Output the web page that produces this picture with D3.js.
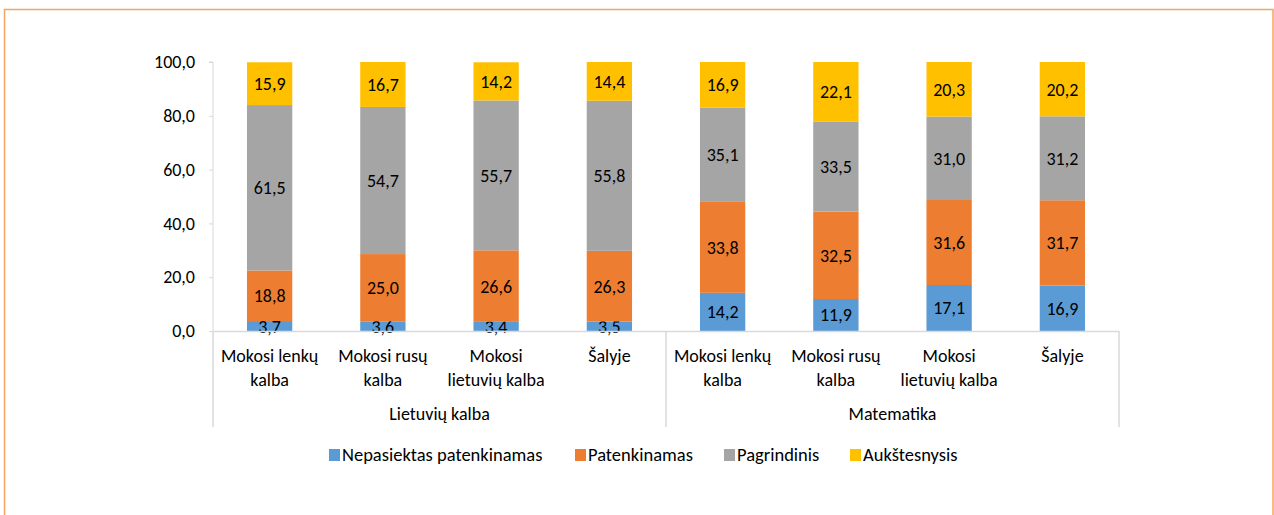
<!DOCTYPE html>
<html>
<head>
<meta charset="utf-8">
<script src="https://cdn.jsdelivr.net/npm/d3@7"></script>
<style>
  body { margin: 0; background: #fff; }
  svg text { font-family: Calibri, Carlito, "Open Sans", sans-serif; fill: #000; }
</style>
</head>
<body>
<svg id="chart" width="1274" height="515"></svg>
<script>
// Achievement levels by language of instruction, in percent
const groups = ["Lietuvių kalba", "Matematika"];
const categories = ["Mokosi lenkų kalba", "Mokosi rusų kalba", "Mokosi lietuvių kalba", "Šalyje"];
const categoryLines = [["Mokosi lenkų", "kalba"], ["Mokosi rusų", "kalba"], ["Mokosi", "lietuvių kalba"], ["Šalyje"]];
const seriesNames = ["Nepasiektas patenkinamas", "Patenkinamas", "Pagrindinis", "Aukštesnysis"];
const nepasiektas = [3.7, 3.6, 3.4, 3.5, 14.2, 11.9, 17.1, 16.9];
const patenkinamas = [18.8, 25.0, 26.6, 26.3, 33.8, 32.5, 31.6, 31.7];
const pagrindinis = [61.5, 54.7, 55.7, 55.8, 35.1, 33.5, 31.0, 31.2];
const aukstesnysis = [15.9, 16.7, 14.2, 14.4, 16.9, 22.1, 20.3, 20.2];
const yTicks = [0, 20, 40, 60, 80, 100];
const colors = ["#5b9bd5", "#ed7d31", "#a5a5a5", "#ffc000"];

const seriesValues = [nepasiektas, patenkinamas, pagrindinis, aukstesnysis];
const rows = [];
groups.forEach((g, gi) => categories.forEach((c, ci) => {
  const i = gi * categories.length + ci;
  const row = { key: g + "|" + c, idx: i };
  seriesNames.forEach((s, si) => row[s] = seriesValues[si][i]);
  rows.push(row);
}));

const svg = d3.select("#chart");
const fmt = v => d3.format(".1f")(v).replace(".", ",");

// outer frame
svg.append("rect").attr("x", 4.5).attr("y", 9.5).attr("width", 1268.5).attr("height", 520)
  .attr("fill", "none").attr("stroke", "#f4a460").attr("stroke-width", 1.5);

const plotLeft = 213, plotRight = 1119, plotTop = 62, plotBottom = 331;
const x = d3.scaleBand().domain(rows.map(r => r.key)).range([plotLeft, plotRight]).paddingInner(0.6).paddingOuter(0.3);
const y = d3.scaleLinear().domain([0, 100]).range([plotBottom, plotTop]);

// y axis
const yAxis = svg.append("g").attr("transform", `translate(${plotLeft},0)`)
  .call(d3.axisLeft(y).tickValues(yTicks).tickSize(4).tickPadding(14).tickFormat(fmt));
yAxis.select(".domain").attr("stroke", "#d9d9d9").attr("d", `M-4,${plotTop}H0V${plotBottom}`);
yAxis.selectAll(".tick line").attr("stroke", "#d9d9d9");
yAxis.selectAll(".tick text").style("font-size", "18px").style("font-family", null);

// stacked bars
const stack = d3.stack().keys(seriesNames)(rows);
const layers = svg.append("g").selectAll("g").data(stack).join("g")
  .attr("fill", (d, i) => colors[i]);
layers.selectAll("rect").data(d => d).join("rect")
  .attr("x", d => x(d.data.key))
  .attr("width", x.bandwidth())
  .attr("y", d => y(d[1]))
  .attr("height", d => y(d[0]) - y(d[1]));

// value labels
layers.selectAll("text").data(d => d.map(v => ({ v, val: v[1] - v[0] }))).join("text")
  .attr("x", d => x(d.v.data.key) + x.bandwidth() / 2)
  .attr("y", d => (y(d.v[0]) + y(d.v[1])) / 2)
  .attr("dy", "0.36em")
  .attr("text-anchor", "middle")
  .style("font-size", "18px")
  .text(d => fmt(d.val));

// category axis with group divisions
const axisColor = "#d9d9d9";
const groupBottom = 427;
svg.append("line").attr("x1", plotLeft).attr("x2", plotRight).attr("y1", plotBottom + 0.5).attr("y2", plotBottom + 0.5)
  .attr("stroke", axisColor).attr("stroke-width", 1.5);
const step = x.step();
const groupEdges = d3.range(groups.length + 1).map(g => plotLeft + g * categories.length * step);
groupEdges.forEach(gx => {
  svg.append("line").attr("x1", gx).attr("x2", gx).attr("y1", plotBottom).attr("y2", groupBottom)
    .attr("stroke", axisColor).attr("stroke-width", 1.5);
});

// category labels
rows.forEach((r, i) => {
  const cx = x(r.key) + x.bandwidth() / 2;
  const lines = categoryLines[i % categories.length];
  const t = svg.append("text").attr("text-anchor", "middle").style("font-size", "18px");
  lines.forEach((ln, li) => t.append("tspan").attr("x", cx).attr("y", 362 + li * 23.5).text(ln));
});

// group labels
groups.forEach((g, gi) => {
  svg.append("text").attr("x", (groupEdges[gi] + groupEdges[gi + 1]) / 2).attr("y", 420)
    .attr("text-anchor", "middle").style("font-size", "18px").text(g);
});

// legend
const legendX = [329, 575, 724, 850];
const legend = svg.append("g");
seriesNames.forEach((s, i) => {
  legend.append("rect").attr("x", legendX[i]).attr("y", 449).attr("width", 11).attr("height", 12).attr("fill", colors[i]);
  legend.append("text").attr("x", legendX[i] + 13).attr("y", 460.5).style("font-size", "18.5px").text(s);
});
</script>
</body>
</html>
